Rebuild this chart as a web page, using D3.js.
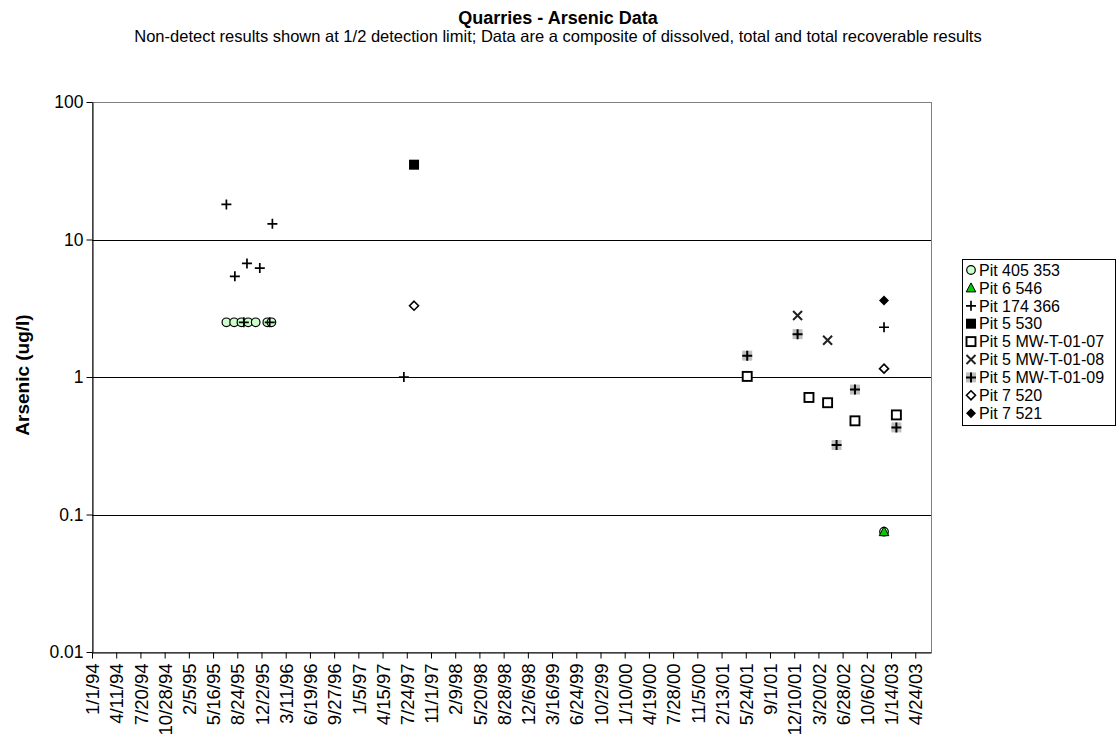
<!DOCTYPE html>
<html>
<head>
<meta charset="utf-8">
<script src="https://cdn.jsdelivr.net/npm/d3@7"></script>
<style>
  html, body { margin: 0; padding: 0; background: #fff; }
  svg { display: block; font-family: "Liberation Sans", Arial, sans-serif; }
</style>
</head>
<body>
<svg id="chart" width="1117" height="738"></svg>
<script>
// ---- data -------------------------------------------------------------
const chartTitle = "Quarries - Arsenic Data";
const chartSubtitle = "Non-detect results shown at 1/2 detection limit; Data are a composite of dissolved, total and total recoverable results";
const yAxisTitle = "Arsenic (ug/l)";

const xTickLabels = ["1/1/94","4/11/94","7/20/94","10/28/94","2/5/95","5/16/95","8/24/95","12/2/95",
  "3/11/96","6/19/96","9/27/96","1/5/97","4/15/97","7/24/97","11/1/97","2/9/98","5/20/98","8/28/98",
  "12/6/98","3/16/99","6/24/99","10/2/99","1/10/00","4/19/00","7/28/00","11/5/00","2/13/01","5/24/01",
  "9/1/01","12/10/01","3/20/02","6/28/02","10/6/02","1/14/03","4/24/03"];
const xDomain = ["1/1/94", "6/28/03"];
const yTickValues = [0.01, 0.1, 1, 10, 100];
const yGridValues = [0.1, 1, 10];

// sample date, arsenic (ug/l)
const pit405_353 = [["7/10/95",2.5],["8/11/95",2.5],["9/10/95",2.5],["10/8/95",2.5],["11/8/95",2.5],
  ["12/26/95",2.5],["1/12/96",2.5],["12/16/02",0.075]];
const pit6_546 = [["12/16/02",0.075]];
const pit174_366 = [["7/10/95",18],["8/14/95",5.4],["9/20/95",2.5],["10/3/95",6.7],["11/25/95",6.2],
  ["1/5/96",2.5],["1/16/96",13],["7/12/97",1.0],["12/16/02",2.3]];
const pit5_530 = [["8/23/97",35]];
const pit5_mw0107 = [["5/30/01",1.01],["2/9/02",0.71],["4/27/02",0.65],["8/18/02",0.48],["2/5/03",0.53]];
const pit5_mw0108 = [["12/24/01",2.8],["4/27/02",1.85]];
const pit5_mw0109 = [["5/30/01",1.43],["12/24/01",2.05],["6/3/02",0.32],["8/18/02",0.81],["2/5/03",0.43]];
const pit7_520 = [["8/23/97",3.3],["12/16/02",1.15]];
const pit7_521 = [["12/16/02",3.6]];

const seriesNames = ["Pit 405 353","Pit 6 546","Pit 174 366","Pit 5 530","Pit 5 MW-T-01-07",
  "Pit 5 MW-T-01-08","Pit 5 MW-T-01-09","Pit 7 520","Pit 7 521"];
const seriesData = [pit405_353, pit6_546, pit174_366, pit5_530, pit5_mw0107,
  pit5_mw0108, pit5_mw0109, pit7_520, pit7_521];
const seriesMarkers = ["circle","triangle","plus","squareFilled","squareOpen","cross","plusOnGray","diamondOpen","diamondFilled"];

// ---- layout -------------------------------------------------------------
const L = 92, R = 931, T = 102, B = 652;
const FONT = "Liberation Sans, Arial, sans-serif";
const parse = d3.utcParse("%m/%d/%y");
const fmt = d3.utcFormat("%-m/%-d/%y");

const svg = d3.select("#chart");

const x = d3.scaleUtc().domain(xDomain.map(parse)).range([L, R]);
const y = d3.scaleLog().domain([0.01, 100]).range([B, T]);

// titles
svg.append("text").attr("x", 558).attr("y", 24).attr("text-anchor", "middle")
  .attr("font-size", 18).attr("font-weight", "bold").text(chartTitle);
svg.append("text").attr("x", 558).attr("y", 42).attr("text-anchor", "middle")
  .attr("font-size", 16.5).text(chartSubtitle);

// plot frame
svg.append("rect").attr("x", L + 0.5).attr("y", T + 0.5).attr("width", R - L).attr("height", B - T)
  .attr("fill", "none").attr("stroke", "#808080").attr("stroke-width", 1);

// horizontal gridlines
svg.append("g").selectAll("line").data(yGridValues).join("line")
  .attr("x1", L).attr("x2", R)
  .attr("y1", d => Math.round(y(d)) + 0.5).attr("y2", d => Math.round(y(d)) + 0.5)
  .attr("stroke", "#000").attr("stroke-width", 1);

// y axis
const yAxis = svg.append("g").attr("transform", `translate(${L + 0.5},0)`)
  .call(d3.axisLeft(y).tickValues(yTickValues).tickFormat(d => String(d)).tickSize(6).tickSizeOuter(0));
yAxis.selectAll("text").attr("font-size", 17.5).attr("font-family", FONT)
  .attr("fill", "#000").attr("x", -9);
yAxis.selectAll("line, path").attr("stroke", "#000");

// x axis
const xAxis = svg.append("g").attr("transform", `translate(0,${B + 0.5})`)
  .call(d3.axisBottom(x).tickValues(xTickLabels.map(parse)).tickFormat(fmt).tickSize(6).tickSizeOuter(0));
xAxis.selectAll("text")
  .attr("font-size", 18.5).attr("font-family", FONT).attr("fill", "#000")
  .attr("transform", "rotate(-90)").attr("text-anchor", "end")
  .attr("x", -11).attr("y", 0).attr("dy", "0.36em");
xAxis.selectAll("line, path").attr("stroke", "#000");

// y axis title
svg.append("text").attr("transform", "translate(29,375) rotate(-90)").attr("text-anchor", "middle")
  .attr("font-size", 19).attr("font-weight", "bold").text(yAxisTitle);

// ---- markers --------------------------------------------------------------
function drawMarker(g, type) {
  switch (type) {
    case "circle":
      g.append("circle").attr("r", 4.3).attr("fill", "#ccffcc").attr("stroke", "#000").attr("stroke-width", 1.2);
      break;
    case "triangle":
      g.append("path").attr("d", "M0,-5L4.8,4L-4.8,4Z").attr("fill", "#00cc00").attr("stroke", "#000").attr("stroke-width", 1);
      break;
    case "plus":
      g.append("path").attr("d", "M-5,0H5M0,-5V5").attr("stroke", "#000").attr("stroke-width", 1.7).attr("fill", "none");
      break;
    case "squareFilled":
      g.append("rect").attr("x", -5).attr("y", -5).attr("width", 10).attr("height", 10).attr("fill", "#000");
      break;
    case "squareOpen":
      g.append("rect").attr("x", -4.5).attr("y", -4.5).attr("width", 9).attr("height", 9)
        .attr("fill", "#fff").attr("stroke", "#000").attr("stroke-width", 1.9);
      break;
    case "cross":
      g.append("path").attr("d", "M-4.5,-4.5L4.5,4.5M-4.5,4.5L4.5,-4.5").attr("stroke", "#222").attr("stroke-width", 2).attr("fill", "none");
      break;
    case "plusOnGray":
      g.append("rect").attr("x", -5).attr("y", -5).attr("width", 10).attr("height", 10).attr("fill", "#c0c0c0");
      g.append("path").attr("d", "M-5,0H5M0,-5V5").attr("stroke", "#000").attr("stroke-width", 2).attr("fill", "none");
      break;
    case "diamondOpen":
      g.append("path").attr("d", "M0,-4.5L4.5,0L0,4.5L-4.5,0Z").attr("fill", "#fff").attr("stroke", "#000").attr("stroke-width", 1.6);
      break;
    case "diamondFilled":
      g.append("path").attr("d", "M0,-5L5,0L0,5L-5,0Z").attr("fill", "#000");
      break;
  }
}

const pts = svg.append("g");
seriesData.forEach((data, i) => {
  data.forEach(([d, v]) => {
    const g = pts.append("g").attr("transform", `translate(${x(parse(d))},${y(v)})`);
    drawMarker(g, seriesMarkers[i]);
  });
});

// ---- legend ---------------------------------------------------------------
const lgX = 962, lgY = 259, rowH = 17.9;
const legend = svg.append("g");
legend.append("rect").attr("x", lgX + 0.5).attr("y", lgY + 0.5)
  .attr("width", 1116 - lgX - 1).attr("height", 166)
  .attr("fill", "#fff").attr("stroke", "#000");
seriesNames.forEach((name, i) => {
  const cy = lgY + 11 + i * rowH;
  const g = legend.append("g").attr("transform", `translate(${lgX + 9},${cy})`);
  drawMarker(g, seriesMarkers[i]);
  legend.append("text").attr("x", lgX + 17).attr("y", cy).attr("dy", "0.36em")
    .attr("font-size", 16).attr("font-family", FONT).text(name);
});
</script>
</body>
</html>
